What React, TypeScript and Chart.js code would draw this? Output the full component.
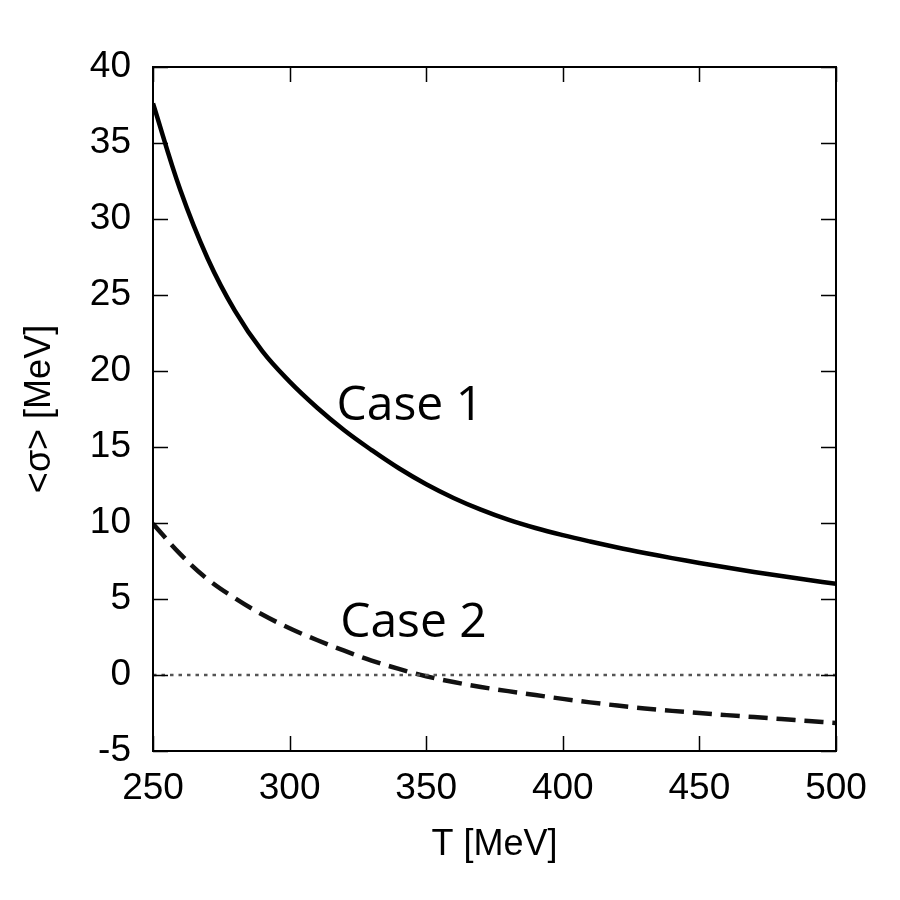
import React, { useEffect, useRef } from "react";
import { Chart, registerables } from "chart.js";

Chart.register(...registerables);

// ---- Data ----
const temperatures = [250, 260, 270, 280, 290, 300, 310, 320, 330, 340, 350, 360, 370, 380, 390, 400, 410, 420, 430, 440, 450, 460, 470, 480, 490, 500];
const case1Values = [37.6, 31.9, 27.4, 23.95, 21.3, 19.3, 17.6, 16.1, 14.8, 13.6, 12.55, 11.65, 10.88, 10.22, 9.67, 9.2, 8.78, 8.39, 8.03, 7.69, 7.37, 7.07, 6.78, 6.51, 6.25, 6.0];
const case2Values = [9.95, 7.95, 6.3, 5.05, 3.98, 3.08, 2.3, 1.6, 0.95, 0.4, -0.08, -0.46, -0.79, -1.06, -1.32, -1.57, -1.8, -2.01, -2.2, -2.36, -2.5, -2.64, -2.77, -2.9, -3.03, -3.15];
const zeroLineT = [250, 500];
const zeroLineValues = [0, 0];
const xTickValues = [250, 300, 350, 400, 450, 500];
const yTickValues = [-5, 0, 5, 10, 15, 20, 25, 30, 35, 40];
const caseLabels = ["Case 1", "Case 2"];
const caseLabelT = [317.2, 318.5];
const caseLabelValue = [16.8, 2.5];
const xTitle = "T [MeV]";
const yTitle = "<σ> [MeV]";

const toPoints = (xs: number[], ys: number[]) => xs.map((x, i) => ({ x, y: ys[i] }));

const framePlugin = {
  id: "frameTicks",
  afterDatasetsDraw(chart: any) {
    const { ctx, chartArea, scales } = chart;
    const { left, right, top, bottom } = chartArea;
    ctx.save();
    ctx.strokeStyle = "#000";
    ctx.lineWidth = 1.5;
    const len = 15;
    ctx.beginPath();
    for (const v of xTickValues) {
      const px = Math.round(scales.x.getPixelForValue(v)) + 0.5;
      ctx.moveTo(px, bottom);
      ctx.lineTo(px, bottom - len);
      ctx.moveTo(px, top);
      ctx.lineTo(px, top + len);
    }
    for (const v of yTickValues) {
      const py = Math.round(scales.y.getPixelForValue(v)) + 0.5;
      ctx.moveTo(left, py);
      ctx.lineTo(left + len, py);
      ctx.moveTo(right, py);
      ctx.lineTo(right - len, py);
    }
    ctx.stroke();
    ctx.lineWidth = 2;
    ctx.strokeRect(left, top, right - left, bottom - top);

    ctx.fillStyle = "#000";
    ctx.font = '48px "Open Sans"';
    ctx.textAlign = "left";
    ctx.textBaseline = "alphabetic";
    caseLabels.forEach((label, i) => {
      ctx.fillText(label, scales.x.getPixelForValue(caseLabelT[i]), scales.y.getPixelForValue(caseLabelValue[i]));
    });
    ctx.restore();
  },
};

export default function App() {
  const canvasRef = useRef<HTMLCanvasElement | null>(null);

  useEffect(() => {
    document.body.style.margin = "0";
    const canvas = canvasRef.current;
    if (!canvas) return;
    const tickFont = { family: '"Liberation Sans", Arial, sans-serif', size: 37 };
    const titleFont = { family: '"Liberation Sans", Arial, sans-serif', size: 36 };
    const chart = new Chart(canvas, {
      type: "line",
      data: {
        datasets: [
          {
            label: "zero",
            data: toPoints(zeroLineT, zeroLineValues),
            borderColor: "#555",
            borderWidth: 2.5,
            borderDash: [3.5, 5],
            pointRadius: 0,
            fill: false,
          },
          {
            label: "Case 1",
            data: toPoints(temperatures, case1Values),
            borderColor: "#000",
            borderWidth: 4.5,
            pointRadius: 0,
            tension: 0.4,
            fill: false,
          },
          {
            label: "Case 2",
            data: toPoints(temperatures, case2Values),
            borderColor: "#111",
            borderWidth: 4.5,
            borderDash: [19, 9],
            pointRadius: 0,
            tension: 0.4,
            fill: false,
          },
        ],
      },
      options: {
        responsive: false,
        animation: false,
        devicePixelRatio: 1,
        layout: { padding: { left: 0, right: 64, top: 67, bottom: 0 } },
        plugins: { legend: { display: false }, tooltip: { enabled: false } },
        scales: {
          x: {
            type: "linear",
            min: 250,
            max: 500,
            afterBuildTicks: (scale: any) => {
              scale.ticks = xTickValues.map((v) => ({ value: v }));
            },
            afterFit: (scale: any) => {
              scale.height = 149;
            },
            grid: { display: false, drawTicks: false },
            border: { display: false },
            ticks: { font: tickFont, color: "#000", padding: 16, maxRotation: 0 },
            title: { display: true, text: xTitle, font: titleFont, color: "#000", padding: { top: 0, bottom: 33 } },
          },
          y: {
            type: "linear",
            min: -5,
            max: 40,
            afterBuildTicks: (scale: any) => {
              scale.ticks = yTickValues.map((v) => ({ value: v }));
            },
            afterFit: (scale: any) => {
              scale.width = 153;
            },
            grid: { display: false, drawTicks: false },
            border: { display: false },
            ticks: { font: tickFont, color: "#000", padding: 22 },
            title: { display: true, text: yTitle, font: titleFont, color: "#000", padding: { top: 18, bottom: 0 } },
          },
        },
      },
      plugins: [framePlugin],
    } as any);
    return () => chart.destroy();
  }, []);

  return (
    <div style={{ width: 900, height: 900, background: "#fff" }}>
      <canvas ref={canvasRef} width={900} height={900} style={{ display: "block" }} />
    </div>
  );
}
